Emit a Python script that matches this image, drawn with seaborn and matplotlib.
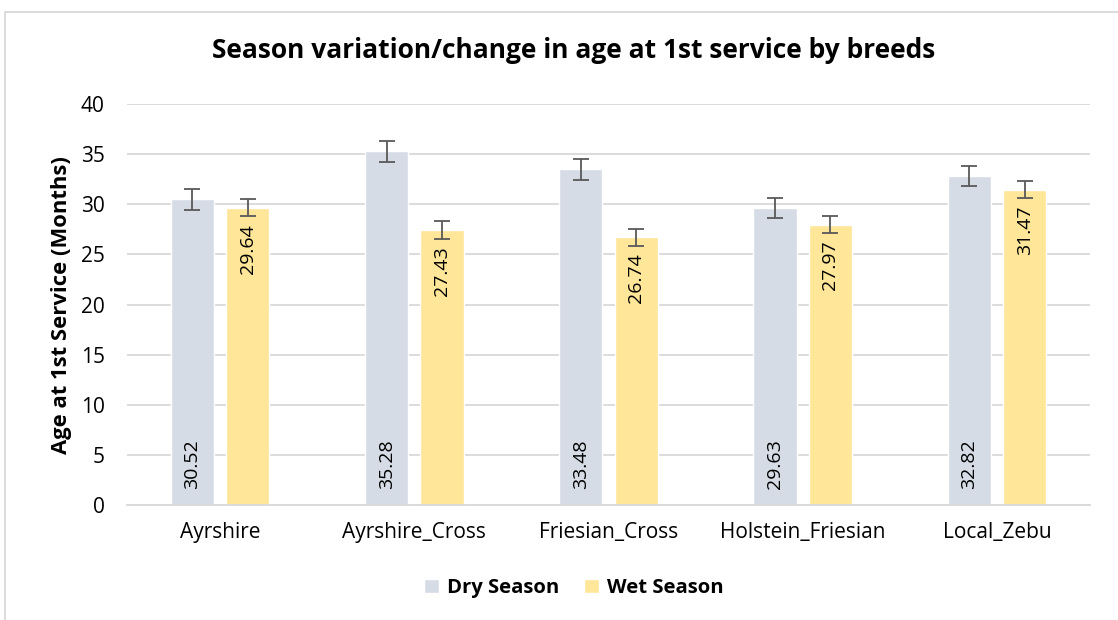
import matplotlib
matplotlib.use("Agg")
import matplotlib.pyplot as plt
import seaborn as sns
import pandas as pd
from matplotlib.patches import Rectangle

# ---------- DATA ----------
breeds = ["Ayrshire", "Ayrshire_Cross", "Friesian_Cross", "Holstein_Friesian", "Local_Zebu"]
seasons = ["Dry Season", "Wet Season"]
dry_vals = [30.52, 35.28, 33.48, 29.63, 32.82]
wet_vals = [29.64, 27.43, 26.74, 27.97, 31.47]
dry_err = [1.05, 1.03, 1.0, 1.03, 1.03]
wet_err = [0.85, 0.88, 0.85, 0.85, 0.85]

colors = {"Dry Season": "#D6DCE5", "Wet Season": "#FFE699"}

df = pd.DataFrame({
    "Breed": breeds * 2,
    "Season": [seasons[0]] * len(breeds) + [seasons[1]] * len(breeds),
    "Age": dry_vals + wet_vals,
})

sns.set_theme(style="white")
plt.rcParams["font.family"] = ["Open Sans", "DejaVu Sans"]
plt.rcParams["text.color"] = "black"

fig = plt.figure(figsize=(11.18, 6.2), dpi=100)
ax = fig.add_axes([0.1136, 0.1855, 0.975 - 0.1136, 0.832 - 0.1855])

sns.barplot(data=df, x="Breed", y="Age", hue="Season", order=breeds,
            hue_order=seasons, palette=colors, width=0.57, gap=0.22,
            errorbar=None, ax=ax, saturation=1)

# error bars + value labels
for i, season in enumerate(seasons):
    cont = ax.containers[i]
    vals = dry_vals if i == 0 else wet_vals
    errs = dry_err if i == 0 else wet_err
    xs = [p.get_x() + p.get_width() / 2 for p in cont.patches]
    ax.errorbar(xs, vals, yerr=errs, fmt="none", ecolor="#595959",
                elinewidth=1.3, capsize=6, capthick=1.3, zorder=5)
    for x, v in zip(xs, vals):
        if i == 0:
            ax.text(x, 1.6, f"{v:.2f}", rotation=90, ha="center", va="bottom",
                    fontsize=14, color="black", zorder=6)
        else:
            ax.text(x, v - 1.6, f"{v:.2f}", rotation=90, ha="center", va="top",
                    fontsize=14, color="black", zorder=6)

ax.set_ylim(0, 40)
ax.set_yticks(range(0, 41, 5))
ax.yaxis.grid(True, color="#D9D9D9", linewidth=1.3)
ax.set_axisbelow(True)
for s in ["top", "right", "left"]:
    ax.spines[s].set_visible(False)
ax.spines["bottom"].set_color("#D9D9D9")
ax.spines["bottom"].set_linewidth(1.3)
ax.tick_params(axis="both", length=0, labelsize=15, colors="black")
ax.tick_params(axis="y", pad=16)
ax.tick_params(axis="x", pad=12)
ax.set_xlabel("")
ax.set_ylabel("Age at 1st Service (Months)", fontsize=15.8, fontweight="bold",
              labelpad=6, color="black")

fig.suptitle("Season variation/change in age at 1st service by breeds",
             fontsize=19, fontweight="bold", x=0.513, y=0.94, color="black")

leg = ax.legend(loc="center", bbox_to_anchor=(0.513, 1 - 588 / 620), bbox_transform=fig.transFigure,
                ncol=2, frameon=False, prop={"weight": "bold", "size": 14.6},
                handlelength=0.75, handleheight=0.75, columnspacing=1.2, handletextpad=0.4)
for t in leg.get_texts():
    t.set_color("black")

fig.patches.append(Rectangle((5 / 1118, -0.05), 1.1, 1 - 12 / 620 + 0.05,
                             transform=fig.transFigure, fill=False,
                             edgecolor="#D9D9D9", linewidth=1.3))

fig.savefig("out.png", dpi=100)
